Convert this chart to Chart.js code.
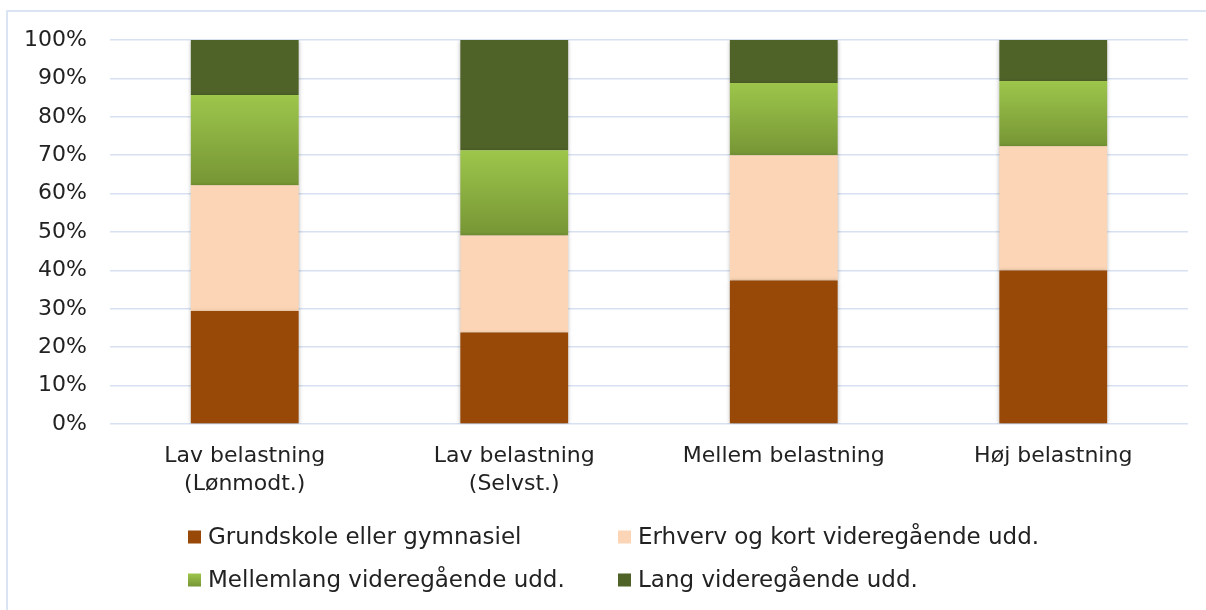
<!DOCTYPE html>
<html>
<head>
<meta charset="utf-8">
<script src="https://cdn.jsdelivr.net/npm/chart.js@4/dist/chart.umd.min.js"></script>
<style>
    html, body { margin: 0; padding: 0; background: #fff; overflow: hidden; }
    #wrap { width: 1206px; height: 610px; position: relative; overflow: hidden; }
    #frame {
        position: absolute; left: 6px; top: 10px; width: 1300px; height: 700px;
        border-left: 2px solid #dbe4f3; border-top: 2px solid #dbe4f3;
    }
    canvas { display: block; position: relative; }
</style>
</head>
<body>
<div id="wrap"><div id="frame"></div><canvas id="eduChart" width="1206" height="610"></canvas></div>
<script>
'use strict';

// categories
const categories = [
    ['Lav belastning', '(Lønmodt.)'],
    ['Lav belastning', '(Selvst.)'],
    'Mellem belastning',
    'Høj belastning'
];

// series (% of each category)
const grundskole = [29.4, 23.8, 37.4, 40.0];
const erhverv = [32.8, 25.3, 32.6, 32.3];
const mellemlang = [23.5, 22.2, 18.8, 17.0];
const lang = [14.3, 28.7, 11.2, 10.7];

const seriesNames = [
    'Grundskole eller gymnasiel',
    'Erhverv og kort videregående udd.',
    'Mellemlang videregående udd.',
    'Lang videregående udd.'
];

const yTicks = [0, 10, 20, 30, 40, 50, 60, 70, 80, 90, 100];

const colors = {
    brown: '#984807',
    peach: '#fbd5b5',
    greenTop: '#9dc64b',
    greenBottom: '#769535',
    greenDark: '#4f6228',
    grid: '#d7e1f1',
    text: '#222222'
};

const FONT = '"DejaVu Sans", sans-serif';

const allSeries = [grundskole, erhverv, mellemlang, lang];

// vertical gradient for the "Mellemlang" segments
function greenGradient(ctx) {
    const chart = ctx.chart;
    const yScale = chart.scales.y;
    if (!chart.chartArea || !yScale || ctx.type !== 'data') return colors.greenBottom;
    let base = 0;
    for (let i = 0; i < ctx.datasetIndex; i++) base += allSeries[i][ctx.dataIndex];
    const top = yScale.getPixelForValue(base + ctx.raw);
    const bottom = yScale.getPixelForValue(base);
    if (!isFinite(top) || !isFinite(bottom) || top === bottom) return colors.greenBottom;
    const g = chart.ctx.createLinearGradient(0, top, 0, bottom);
    g.addColorStop(0, colors.greenTop);
    g.addColorStop(1, colors.greenBottom);
    return g;
}

// soft shadow behind the bars
const shadowPlugin = {
    id: 'barShadow',
    beforeDatasetsDraw(chart) {
        const ctx = chart.ctx;
        ctx.save();
        ctx.shadowColor = 'rgba(0,0,0,0.28)';
        ctx.shadowBlur = 4;
        ctx.shadowOffsetY = 1;
    },
    afterDatasetsDraw(chart) {
        chart.ctx.restore();
    }
};

// two-column legend
const gridLegend = {
    id: 'gridLegend',
    afterDraw(chart) {
        const ctx = chart.ctx;
        const colX = [188, 618];
        const rowY = [537, 580];
        ctx.save();
        ctx.font = '23px ' + FONT;
        ctx.textBaseline = 'middle';
        ctx.textAlign = 'left';
        chart.data.datasets.forEach((ds, i) => {
            const x = colX[i % 2];
            const y = rowY[Math.floor(i / 2)];
            if (i === 2) {
                const g = ctx.createLinearGradient(0, y - 6.5, 0, y + 6.5);
                g.addColorStop(0, colors.greenTop);
                g.addColorStop(1, colors.greenBottom);
                ctx.fillStyle = g;
            } else {
                ctx.fillStyle = ds.legendColor;
            }
            ctx.fillRect(x, y - 6.5, 13, 13);
            ctx.fillStyle = colors.text;
            ctx.fillText(ds.label, x + 20, y + 1);
        });
        ctx.restore();
    }
};

new Chart(document.getElementById('eduChart'), {
    type: 'bar',
    data: {
        labels: categories,
        datasets: [
            { label: seriesNames[0], data: grundskole, backgroundColor: colors.brown, legendColor: colors.brown },
            { label: seriesNames[1], data: erhverv, backgroundColor: colors.peach, legendColor: colors.peach },
            { label: seriesNames[2], data: mellemlang, backgroundColor: greenGradient, legendColor: colors.greenBottom },
            { label: seriesNames[3], data: lang, backgroundColor: colors.greenDark, legendColor: colors.greenDark }
        ]
    },
    options: {
        responsive: false,
        animation: false,
        devicePixelRatio: 1,
        layout: {
            padding: { top: 40, right: 18, bottom: 110, left: 0 }
        },
        datasets: {
            bar: {
                categoryPercentage: 1,
                barPercentage: 0.4,
                borderWidth: 0
            }
        },
        scales: {
            x: {
                stacked: true,
                grid: { display: false, drawTicks: false },
                border: { display: false },
                ticks: {
                    color: colors.text,
                    font: { family: FONT, size: 22, lineHeight: 1.27 },
                    padding: 18,
                    maxRotation: 0,
                    autoSkip: false
                },
                afterFit(scale) { scale.height = 76; }
            },
            y: {
                stacked: true,
                min: 0,
                max: 100,
                afterBuildTicks(scale) {
                    scale.ticks = yTicks.map(v => ({ value: v }));
                },
                grid: {
                    color: colors.grid,
                    lineWidth: 1.5,
                    drawTicks: false
                },
                border: { display: false },
                ticks: {
                    color: colors.text,
                    font: { family: FONT, size: 22 },
                    padding: 23,
                    callback: v => v + '%'
                },
                afterFit(scale) { scale.width = 110; }
            }
        },
        plugins: {
            legend: { display: false },
            tooltip: { enabled: false }
        }
    },
    plugins: [shadowPlugin, gridLegend]
});
</script>
</body>
</html>
